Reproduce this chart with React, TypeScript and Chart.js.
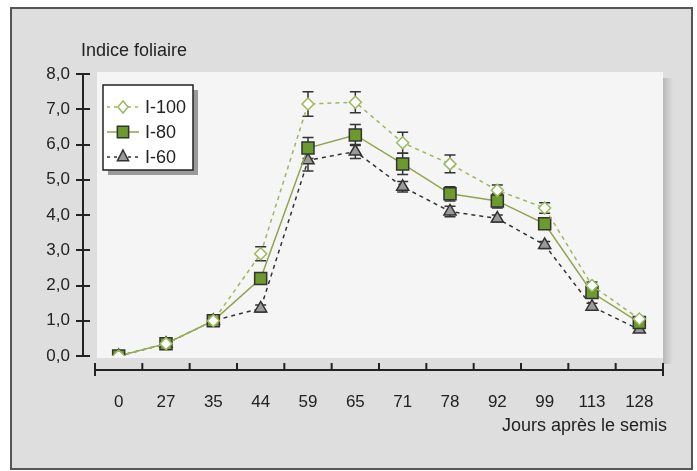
import React, { useEffect, useRef } from "react";
import { Chart, registerables } from "chart.js";

Chart.register(...registerables);

const categories = ["0", "27", "35", "44", "59", "65", "71", "78", "92", "99", "113", "128"];
const i100 = [0, 0.35, 1.0, 2.9, 7.15, 7.2, 6.05, 5.45, 4.7, 4.2, 2.0, 1.05];
const i80 = [0, 0.35, 1.0, 2.2, 5.9, 6.27, 5.45, 4.6, 4.4, 3.75, 1.8, 0.95];
const i60 = [0, 0.35, 1.0, 1.35, 5.55, 5.8, 4.8, 4.1, 3.9, 3.15, 1.4, 0.75];
const err100 = [0, 0, 0, 0.2, 0.35, 0.3, 0.3, 0.25, 0.15, 0.15, 0.1, 0.05];
const err80 = [0, 0, 0, 0, 0.3, 0.3, 0.3, 0.2, 0.2, 0.15, 0.1, 0];
const err60 = [0, 0, 0, 0.1, 0.3, 0.2, 0.15, 0.15, 0.1, 0.1, 0.1, 0];
const yTicks = [0, 1, 2, 3, 4, 5, 6, 7, 8];
const yTitle = "Indice foliaire";
const xTitle = "Jours après le semis";
const seriesNames = ["I-100", "I-80", "I-60"];

const FONT = "'Liberation Sans', Arial, sans-serif";
const C100 = "#9bb85e";
const C80 = "#8fa54c";
const FILL80 = "#6c9a2c";
const C60 = "#333333";

const decorPlugin = {
  id: "decor",
  beforeDraw(chart: any) {
    const ctx = chart.ctx;
    const W = chart.width;
    const H = chart.height;
    const ca = chart.chartArea;
    const y = chart.scales.y;
    ctx.save();
    ctx.fillStyle = "#ffffff";
    ctx.fillRect(0, 0, W, H);
    ctx.fillStyle = "#dedede";
    ctx.fillRect(11, 8, 681, 461);
    ctx.strokeStyle = "#555";
    ctx.lineWidth = 2;
    ctx.strokeRect(11, 8, 681, 461);
    // shadow for plot area
    const grad = ctx.createLinearGradient(ca.right, 0, ca.right + 10, 0);
    grad.addColorStop(0, "#b8b8b8");
    grad.addColorStop(1, "#dedede");
    ctx.fillStyle = grad;
    ctx.fillRect(ca.right, 78, 10, 286);
    ctx.fillStyle = "#f5f5f5";
    ctx.fillRect(97, 72, ca.right - 97, 286);
    // y axis
    ctx.strokeStyle = "#222";
    ctx.lineWidth = 2;
    ctx.beginPath();
    const y0 = y.getPixelForValue(0);
    const y8 = y.getPixelForValue(8);
    ctx.moveTo(83, y8);
    ctx.lineTo(83, y0);
    yTicks.forEach((v) => {
      const p = Math.round(y.getPixelForValue(v)) + 0;
      ctx.moveTo(76, p);
      ctx.lineTo(90, p);
    });
    ctx.stroke();
    // x axis
    const xa = 370;
    ctx.beginPath();
    ctx.moveTo(ca.left, xa);
    ctx.lineTo(ca.right, xa);
    const n = categories.length;
    const step = (ca.right - ca.left) / n;
    for (let i = 0; i <= n; i++) {
      const px = ca.left + i * step;
      const isEnd = i === 0 || i === n;
      ctx.moveTo(px, xa - 7);
      ctx.lineTo(px, isEnd ? xa + 6 : xa);
    }
    ctx.stroke();
    // titles
    ctx.fillStyle = "#222";
    ctx.font = `18px ${FONT}`;
    ctx.textBaseline = "middle";
    ctx.textAlign = "left";
    ctx.fillText(yTitle, 81, 51);
    ctx.textAlign = "right";
    ctx.fillText(xTitle, 667, 426);
    ctx.restore();
  },
  beforeDatasetsDraw(chart: any) {
    const ctx = chart.ctx;
    const x = chart.scales.x;
    const y = chart.scales.y;
    const sets = [
      [i100, err100],
      [i80, err80],
      [i60, err60],
    ];
    ctx.save();
    ctx.strokeStyle = "#333";
    ctx.lineWidth = 1.5;
    ctx.setLineDash([]);
    sets.forEach(([vals, errs]) => {
      vals.forEach((v: number, i: number) => {
        const e = errs[i];
        if (!e) return;
        const px = x.getPixelForValue(i);
        const top = y.getPixelForValue(v + e);
        const bot = y.getPixelForValue(v - e);
        ctx.beginPath();
        ctx.moveTo(px, top);
        ctx.lineTo(px, bot);
        ctx.moveTo(px - 5.5, top);
        ctx.lineTo(px + 5.5, top);
        ctx.moveTo(px - 5.5, bot);
        ctx.lineTo(px + 5.5, bot);
        ctx.stroke();
      });
    });
    ctx.restore();
  },
  afterDraw(chart: any) {
    const ctx = chart.ctx;
    ctx.save();
    // legend
    ctx.fillStyle = "#9a9a9a";
    ctx.fillRect(108, 90, 90, 85);
    ctx.fillStyle = "#ffffff";
    ctx.fillRect(103, 85, 90, 85);
    ctx.strokeStyle = "#222";
    ctx.lineWidth = 1.5;
    ctx.strokeRect(103, 85, 90, 85);
    const rows = [107, 132, 157];
    const styles = [
      { color: C100, dash: [3, 4], point: "rectRot", fill: "#ffffff", border: C100, r: 6 },
      { color: C80, dash: [], point: "rect", fill: FILL80, border: "#333", r: 8 },
      { color: C60, dash: [3, 4], point: "triangle", fill: "#9a9a9a", border: "#333", r: 7 },
    ];
    styles.forEach((s, i) => {
      const yy = rows[i];
      ctx.strokeStyle = s.color;
      ctx.lineWidth = 1.5;
      ctx.setLineDash(s.dash);
      ctx.beginPath();
      ctx.moveTo(107, yy);
      ctx.lineTo(139, yy);
      ctx.stroke();
      ctx.setLineDash([]);
      ctx.fillStyle = s.fill;
      ctx.strokeStyle = s.border;
      ctx.lineWidth = 1.5;
      (Chart as any).helpers
        ? null
        : null;
      drawPoint(ctx, s.point, s.r, 123, yy);
      ctx.fillStyle = "#222";
      ctx.font = `18px ${FONT}`;
      ctx.textAlign = "left";
      ctx.textBaseline = "middle";
      ctx.fillText(seriesNames[i], 145, yy + 1);
    });
    ctx.restore();
  },
};

function drawPoint(ctx: CanvasRenderingContext2D, style: string, r: number, x: number, y: number) {
  ctx.beginPath();
  if (style === "rectRot") {
    ctx.moveTo(x, y - r);
    ctx.lineTo(x + r * 0.85, y);
    ctx.lineTo(x, y + r);
    ctx.lineTo(x - r * 0.85, y);
    ctx.closePath();
  } else if (style === "rect") {
    const s = Math.SQRT1_2 * r;
    ctx.rect(x - s, y - s, 2 * s, 2 * s);
  } else {
    const h = r * 1.5;
    ctx.moveTo(x, y - r);
    ctx.lineTo(x + r * 0.8, y + r * 0.55);
    ctx.lineTo(x - r * 0.8, y + r * 0.55);
    ctx.closePath();
  }
  ctx.fill();
  ctx.stroke();
}

export default function App() {
  const ref = useRef<HTMLCanvasElement>(null);
  useEffect(() => {
    document.body.style.margin = "0";
    const canvas = ref.current!;
    const chart = new Chart(canvas, {
      type: "line",
      data: {
        labels: categories,
        datasets: [
          {
            label: seriesNames[0],
            data: i100,
            borderColor: C100,
            borderWidth: 1.5,
            borderDash: [4, 4],
            pointStyle: "rectRot",
            pointRadius: 6,
            pointBackgroundColor: "#ffffff",
            pointBorderColor: C100,
            pointBorderWidth: 1.5,
            tension: 0,
          },
          {
            label: seriesNames[1],
            data: i80,
            borderColor: C80,
            borderWidth: 1.5,
            pointStyle: "rect",
            pointRadius: 8.5,
            pointBackgroundColor: FILL80,
            pointBorderColor: "#333",
            pointBorderWidth: 1.5,
            tension: 0,
          },
          {
            label: seriesNames[2],
            data: i60,
            borderColor: C60,
            borderWidth: 1.5,
            borderDash: [4, 4],
            pointStyle: "triangle",
            pointRadius: 7,
            pointBackgroundColor: "#9a9a9a",
            pointBorderColor: "#333",
            pointBorderWidth: 1.5,
            tension: 0,
          },
        ],
      },
      options: {
        animation: false,
        responsive: false,
        maintainAspectRatio: false,
        devicePixelRatio: 1,
        layout: { padding: { top: 74, right: 34, bottom: 0, left: 0 } },
        plugins: { legend: { display: false }, tooltip: { enabled: false } },
        scales: {
          x: {
            offset: true,
            grid: { display: false },
            border: { display: false },
            ticks: {
              padding: 28,
              color: "#222",
              font: { family: FONT, size: 17 },
              maxRotation: 0,
              autoSkip: false,
            },
            afterFit: (s: any) => {
              s.height = 471 - 356;
            },
          },
          y: {
            min: 0,
            max: 8,
            grid: { display: false, drawTicks: false },
            border: { display: false },
            ticks: {
              stepSize: 1,
              padding: 25,
              color: "#222",
              font: { family: FONT, size: 17 },
              callback: (v: any) => Number(v).toFixed(1).replace(".", ","),
            },
            afterFit: (s: any) => {
              s.width = 95;
            },
          },
        },
      },
      plugins: [decorPlugin],
    });
    return () => chart.destroy();
  }, []);
  return <canvas ref={ref} width={697} height={471} style={{ display: "block", width: 697, height: 471 }} />;
}
